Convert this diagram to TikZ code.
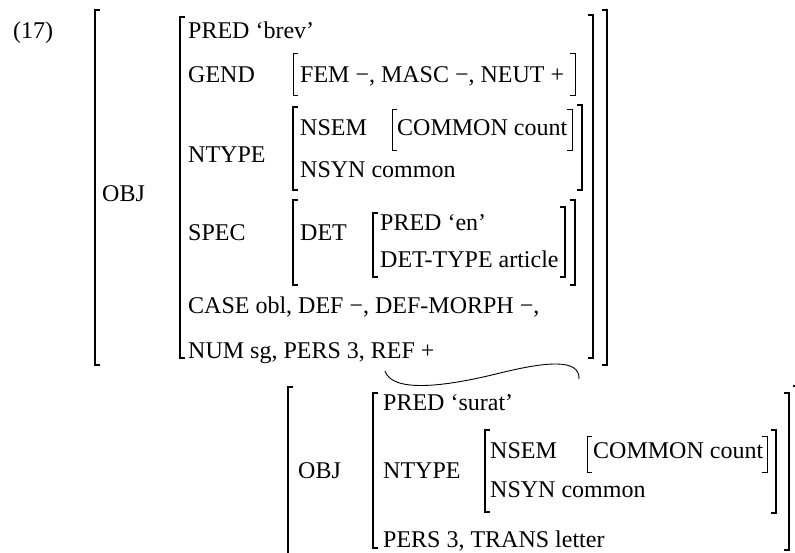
\documentclass[tikz,border=0pt]{standalone}
\usepackage{fontspec}
\setmainfont{Liberation Serif}
\begin{document}
\begin{tikzpicture}[
  x=1pt, y=-1pt,
  font=\fontsize{24}{28}\selectfont,
  lbl/.style={anchor=base west, inner sep=0pt},
  brk/.style={line width=1.4pt},
  thinbrk/.style={line width=0.9pt},
  tie/.style={line width=0.9pt}]
\useasboundingbox (0,0) rectangle (795,552);
% upper f-structure
\node[lbl] (num) at (13,38) {(17)};
\node[lbl] (obj) at (102,201) {OBJ};
\node[lbl] (pred) at (188,38) {PRED `brev'};
\node[lbl] (gend) at (188,82) {GEND};
\node[lbl] (gendval) at (300,82) {FEM −, MASC −, NEUT +};
\node[lbl] (ntype) at (188,162) {NTYPE};
\node[lbl] (nsem) at (300,135) {NSEM};
\node[lbl] (common) at (397,135) {COMMON count};
\node[lbl] (nsyn) at (300,177) {NSYN common};
\node[lbl] (spec) at (188,240) {SPEC};
\node[lbl] (det) at (300,240) {DET};
\node[lbl] (detpred) at (380,230) {PRED `en'};
\node[lbl] (dettype) at (380,267) {DET-TYPE article};
\node[lbl] (case) at (188,313) {CASE obl, DEF −, DEF-MORPH −,};
\node[lbl] (pers) at (188,358) {NUM sg, PERS 3, REF +};
% lower f-structure
\node[lbl] (objb) at (298,478) {OBJ};
\node[lbl] (predb) at (383,410) {PRED `surat'};
\node[lbl] (ntypeb) at (383,478) {NTYPE};
\node[lbl] (nsemb) at (490,458) {NSEM};
\node[lbl] (commonb) at (593,458) {COMMON count};
\node[lbl] (nsynb) at (490,497) {NSYN common};
\node[lbl] (persb) at (383,547) {PERS 3, TRANS letter};
% brackets
\foreach \x/\t/\b in {95/10/365, 180/17/358, 293/107/190, 293/200/285, 373/213/277,
                      288/387/560, 373/393/548, 485/430/512}
  \draw[brk] (\x+5,\t) -- (\x,\t) -- (\x,\b) -- (\x+5,\b);
\foreach \x/\t/\b in {607/10/365, 593/15/358, 582/105/190, 575/200/285, 565/207/277,
                      798/386/560, 789/393/550, 776/430/513}
  \draw[brk] (\x-5,\t) -- (\x,\t) -- (\x,\b) -- (\x-5,\b);
\foreach \x/\t/\b in {293/53/95, 392/109/150, 587/436/472}
  \draw[thinbrk] (\x+5,\t) -- (\x,\t) -- (\x,\b) -- (\x+5,\b);
\foreach \x/\t/\b in {575/53/95, 572/109/150, 767/436/472}
  \draw[thinbrk] (\x-5,\t) -- (\x,\t) -- (\x,\b) -- (\x-5,\b);
% tie from REF to the lower structure
\coordinate (tieA) at (385,371);
\coordinate (tieB) at (579,379);
\draw[tie] (tieA) .. controls (392,392) and (440,388) .. (500,373)
  .. controls (545,362) and (580,358) .. (tieB);
\end{tikzpicture}
\end{document}
